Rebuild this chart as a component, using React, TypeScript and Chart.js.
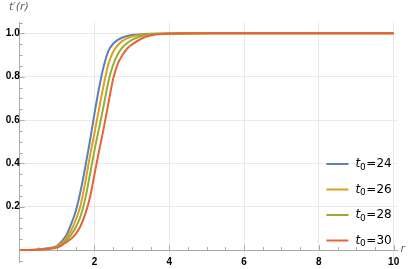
import React, { useEffect, useRef } from "react";
import { Chart, registerables } from "chart.js";

Chart.register(...registerables);

const rValues = [0, 0.25, 0.5, 0.75, 1, 1.125, 1.25, 1.375, 1.5, 1.625, 1.75, 1.875, 2, 2.125, 2.25, 2.375, 2.5, 2.625, 2.75, 2.875, 3, 3.25, 3.5, 4, 5, 6, 7, 8, 9, 10];

const t0Values = [24, 26, 28, 30];

const series24 = [0, 0.0008, 0.003, 0.008, 0.02, 0.04, 0.07, 0.12, 0.18, 0.27, 0.38, 0.5, 0.63, 0.75, 0.85, 0.92, 0.952, 0.97, 0.981, 0.988, 0.992, 0.996, 0.998, 0.9995, 1, 1, 1, 1, 1, 1];
const series26 = [0, 0.0007, 0.0025, 0.007, 0.017, 0.032, 0.055, 0.09, 0.14, 0.205, 0.31, 0.43, 0.54, 0.655, 0.765, 0.86, 0.915, 0.945, 0.965, 0.977, 0.985, 0.993, 0.997, 0.999, 1, 1, 1, 1, 1, 1];
const series28 = [0, 0.0006, 0.002, 0.006, 0.014, 0.027, 0.045, 0.07, 0.105, 0.155, 0.235, 0.345, 0.46, 0.565, 0.67, 0.78, 0.855, 0.905, 0.935, 0.955, 0.97, 0.988, 0.995, 0.999, 1, 1, 1, 1, 1, 1];
const series30 = [0, 0.0005, 0.002, 0.005, 0.012, 0.022, 0.036, 0.052, 0.075, 0.11, 0.165, 0.24, 0.35, 0.46, 0.565, 0.68, 0.79, 0.86, 0.9, 0.93, 0.948, 0.975, 0.99, 0.998, 1, 1, 1, 1, 1, 1];

const allSeries = [series24, series26, series28, series30];
const colors = ["#5E81B5", "#E19C24", "#8FB032", "#EB6235"];

const xTickLabels = [2, 4, 6, 8, 10];
const yTickLabels = [0.2, 0.4, 0.6, 0.8, 1.0];

const near = (a: number, b: number) => Math.abs(a - b) < 1e-6;
const isXMajor = (v: number) => xTickLabels.some((t) => near(t, v));
const isYMajor = (v: number) => yTickLabels.some((t) => near(t, v));

const AXIS_COLOR = "#ababab";
const GRID_COLOR = "#e9e9e9";

const zeroPadding = (scale: any) => {
  scale.paddingLeft = 0;
  scale.paddingRight = 0;
  scale.paddingTop = 0;
  scale.paddingBottom = 0;
};

const decoPlugin = {
  id: "deco",
  beforeDatasetsDraw(chart: any) {
    const ctx = chart.ctx;
    const xs = chart.scales.x;
    const ys = chart.scales.y;
    const x0 = xs.getPixelForValue(0);
    const y0 = ys.getPixelForValue(0);
    ctx.save();
    ctx.strokeStyle = AXIS_COLOR;
    ctx.lineWidth = 1;
    ctx.beginPath();
    xs.ticks.forEach((t: any) => {
      if (near(t.value, 0)) return;
      const px = Math.round(xs.getPixelForValue(t.value)) + 0.5;
      const len = isXMajor(t.value) ? 5 : 3;
      ctx.moveTo(px, y0);
      ctx.lineTo(px, y0 - len);
    });
    ys.ticks.forEach((t: any) => {
      if (near(t.value, 0)) return;
      const py = Math.round(ys.getPixelForValue(t.value)) + 0.5;
      const len = isYMajor(t.value) ? 5 : 3;
      ctx.moveTo(x0, py);
      ctx.lineTo(x0 + len, py);
    });
    ctx.stroke();
    ctx.restore();
  },
  afterDraw(chart: any) {
    const ctx = chart.ctx;
    const area = chart.chartArea;
    ctx.save();
    // axis titles
    ctx.fillStyle = "#666666";
    ctx.textBaseline = "alphabetic";
    ctx.textAlign = "left";
    ctx.font = "italic 11px 'DejaVu Sans'";
    ctx.fillText("t′(r)", 9, 10);
    ctx.fillText("r", area.right + 3, chart.scales.y.getPixelForValue(0) + 2);

    // legend
    const datasets = chart.data.datasets;
    const n = datasets.length;
    datasets.forEach((ds: any, i: number) => {
      const cy = area.bottom - 21.5 - (n - 1 - i) * 25.5;
      ctx.strokeStyle = ds.borderColor;
      ctx.lineWidth = 2;
      ctx.beginPath();
      ctx.moveTo(area.right - 71, cy);
      ctx.lineTo(area.right - 49, cy);
      ctx.stroke();
      const m = /^t₀=(.*)$/.exec(ds.label);
      let x = area.right - 42;
      ctx.fillStyle = "#000";
      ctx.textBaseline = "middle";
      ctx.font = "italic 12px 'DejaVu Sans'";
      ctx.fillText("t", x, cy);
      x += ctx.measureText("t").width;
      ctx.font = "9px 'DejaVu Sans'";
      ctx.fillText("0", x, cy + 3.5);
      x += ctx.measureText("0").width + 0.5;
      ctx.font = "12px 'DejaVu Sans'";
      ctx.fillText("=" + (m ? m[1] : ds.label), x, cy);
    });
    ctx.restore();
  },
};

export default function App() {
  const ref = useRef<HTMLCanvasElement | null>(null);
  useEffect(() => {
    document.body.style.margin = "0";
    const canvas = ref.current!;
    const chart = new Chart(canvas, {
      type: "line",
      data: {
        datasets: allSeries.map((s, i) => ({
          label: `t₀=${t0Values[i]}`,
          data: rValues.map((r, j) => ({ x: r, y: s[j] })),
          borderColor: colors[i],
          backgroundColor: colors[i],
          borderWidth: 2,
          pointRadius: 0,
          fill: false,
          cubicInterpolationMode: "monotone",
          order: allSeries.length - 1 - i,
        })),
      },
      options: {
        animation: false,
        responsive: false,
        devicePixelRatio: 1,
        layout: { padding: { left: 19.7, right: 17.6, top: 22.5, bottom: 7 } },
        plugins: { legend: { display: false }, tooltip: { enabled: false } },
        scales: {
          x: {
            type: "linear",
            position: { y: 0 } as any,
            min: 0,
            max: 10.1,
            afterFit: zeroPadding,
            grid: {
              color: (c: any) => (c.tick && isXMajor(c.tick.value) ? GRID_COLOR : "rgba(0,0,0,0)"),
              drawTicks: false,
              tickLength: 0,
            },
            border: { color: AXIS_COLOR, width: 1 },
            ticks: {
              stepSize: 0.5,
              includeBounds: false,
              autoSkip: false,
              maxRotation: 0,
              padding: 6,
              color: "#000",
              font: { family: "'Liberation Sans'", size: 10, weight: "bold" },
              callback: (v: any) => (isXMajor(Number(v)) ? String(Math.round(Number(v))) : ""),
            },
          },
          y: {
            type: "linear",
            position: { x: 0 } as any,
            min: -0.055,
            max: 1.05,
            afterFit: zeroPadding,
            grid: {
              color: (c: any) => (c.tick && isYMajor(c.tick.value) ? GRID_COLOR : "rgba(0,0,0,0)"),
              drawTicks: false,
              tickLength: 0,
            },
            border: { color: AXIS_COLOR, width: 1 },
            ticks: {
              stepSize: 0.05,
              includeBounds: false,
              autoSkip: false,
              padding: 5,
              color: "#000",
              font: { family: "'Liberation Sans'", size: 10, weight: "bold" },
              callback: (v: any) => (isYMajor(Number(v)) ? Number(v).toFixed(1) : ""),
            },
          },
        },
      },
      plugins: [decoPlugin],
    });
    return () => chart.destroy();
  }, []);
  return <canvas ref={ref} width={415} height={269} style={{ display: "block" }} />;
}
